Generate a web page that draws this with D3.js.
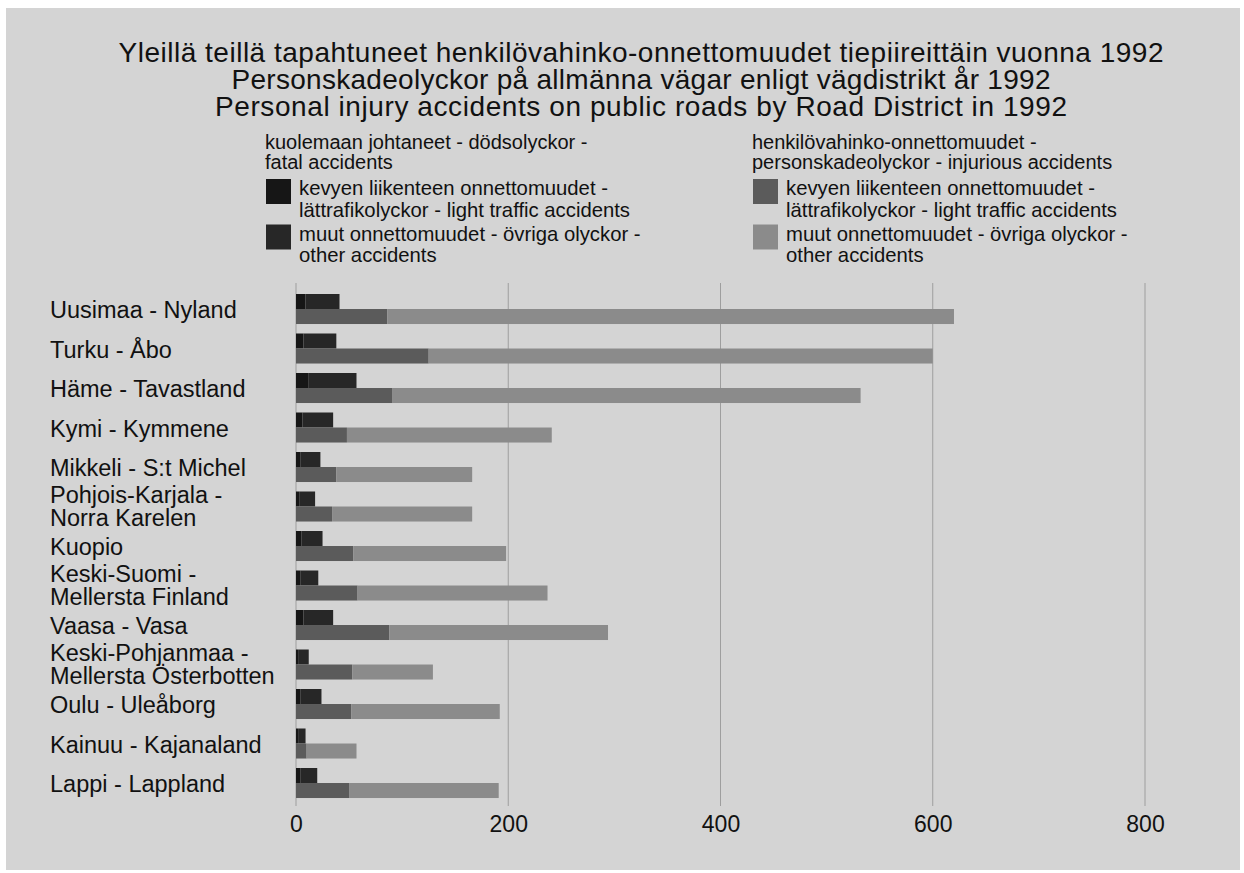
<!DOCTYPE html>
<html>
<head>
<meta charset="utf-8">
<script src="https://cdn.jsdelivr.net/npm/d3@7"></script>
<style>
  html, body { margin: 0; padding: 0; background: #ffffff; }
  svg { display: block; }
  text { font-family: "Liberation Sans", Arial, Helvetica, sans-serif; fill: #111; }
</style>
</head>
<body>
<svg id="chart" width="1244" height="873"></svg>
<script>
const titleLines = [
  "Yleillä teillä tapahtuneet henkilövahinko-onnettomuudet tiepiireittäin vuonna 1992",
  "Personskadeolyckor på allmänna vägar enligt vägdistrikt år 1992",
  "Personal injury accidents on public roads by Road District in 1992"
];

const categories = [
  ["Uusimaa - Nyland"],
  ["Turku - Åbo"],
  ["Häme - Tavastland"],
  ["Kymi - Kymmene"],
  ["Mikkeli - S:t Michel"],
  ["Pohjois-Karjala -", "Norra Karelen"],
  ["Kuopio"],
  ["Keski-Suomi -", "Mellersta Finland"],
  ["Vaasa - Vasa"],
  ["Keski-Pohjanmaa -", "Mellersta Österbotten"],
  ["Oulu - Uleåborg"],
  ["Kainuu - Kajanaland"],
  ["Lappi - Lappland"]
];

// fatal accidents
const fatalLight = [9, 7, 12, 6, 4, 3, 5, 4, 7, 2, 4, 2, 4];
const fatalOther = [32, 31, 45, 29, 19, 15, 20, 17, 28, 10, 20, 7, 16];
// injurious accidents
const injLight = [86, 125, 91, 48, 38, 34, 54, 58, 88, 53, 52, 10, 50];
const injOther = [534, 475, 441, 193, 128, 132, 144, 179, 206, 76, 140, 47, 141];

const tickValues = [0, 200, 400, 600, 800];

const legendFatalHeader = ["kuolemaan johtaneet - dödsolyckor -", "fatal accidents"];
const legendInjHeader = ["henkilövahinko-onnettomuudet -", "personskadeolyckor - injurious accidents"];
const legendItems = [
  ["kevyen liikenteen onnettomuudet -", "lättrafikolyckor - light traffic accidents"],
  ["muut onnettomuudet - övriga olyckor -", "other accidents"]
];

const colors = {
  fatalLight: "#161616",
  fatalOther: "#272727",
  injLight: "#5b5b5b",
  injOther: "#8b8b8b",
  bg: "#d4d4d4",
  grid: "#9e9e9e"
};

const svg = d3.select("#chart");

// background panel
svg.append("rect").attr("x", 6).attr("y", 8).attr("width", 1234).attr("height", 862).attr("fill", colors.bg);

// title
const titleWidths = [1045, 819, 852];
titleLines.forEach((t, i) => {
  svg.append("text").attr("text-anchor", "middle").style("font-size", "28px")
    .attr("x", 641).attr("y", 62 + i * 26.8)
    .attr("textLength", titleWidths[i]).attr("lengthAdjust", "spacing")
    .text(t);
});

// legends
function legend(x0, header, cols) {
  const g = svg.append("g");
  header.forEach((t, i) => {
    g.append("text").attr("x", x0).attr("y", 149 + i * 19.5).style("font-size", "20px").text(t);
  });
  legendItems.forEach((lines, k) => {
    const yTop = 179 + k * 45.5;
    g.append("rect").attr("x", x0 + 1).attr("y", yTop).attr("width", 25).attr("height", 25).attr("fill", cols[k]);
    lines.forEach((t, i) => {
      g.append("text").attr("x", x0 + 34).attr("y", yTop + 16 + i * 21.5).style("font-size", "20.3px").text(t);
    });
  });
}
legend(265, legendFatalHeader, [colors.fatalLight, colors.fatalOther]);
legend(752, legendInjHeader, [colors.injLight, colors.injOther]);

// scales
const x = d3.scaleLinear().domain([0, 800]).range([296, 1145]);
const catNames = categories.map(c => c.join(" "));
const y = d3.scaleBand().domain(catNames).range([289.26, 289.26 + 13 * 39.5]).paddingInner(0.24).paddingOuter(0.12);
const sub = d3.scaleBand().domain(["fatal", "inj"]).range([0, y.bandwidth()]).padding(0);

// gridlines
const gridTop = 283, gridBottom = 806;
svg.append("g").selectAll("line").data(tickValues).join("line")
  .attr("x1", d => x(d)).attr("x2", d => x(d))
  .attr("y1", gridTop).attr("y2", gridBottom)
  .attr("stroke", colors.grid).attr("stroke-width", 1);

// data rows
const rows = catNames.map((name, i) => ({
  name, fl: fatalLight[i], fo: fatalOther[i], il: injLight[i], io: injOther[i]
}));

const bars = svg.append("g");
rows.forEach(r => {
  const segs = [
    { key: "fatal", x0: 0, x1: r.fl, c: colors.fatalLight },
    { key: "fatal", x0: r.fl, x1: r.fl + r.fo, c: colors.fatalOther },
    { key: "inj", x0: 0, x1: r.il, c: colors.injLight },
    { key: "inj", x0: r.il, x1: r.il + r.io, c: colors.injOther }
  ];
  bars.selectAll(null).data(segs).join("rect")
    .attr("x", d => x(d.x0))
    .attr("width", d => x(d.x1) - x(d.x0))
    .attr("y", d => y(r.name) + sub(d.key))
    .attr("height", sub.bandwidth())
    .attr("fill", d => d.c);
});

// y labels
const ylab = svg.append("g");
categories.forEach((lines, i) => {
  const cy = y(catNames[i]) + y.bandwidth() / 2;
  const t = ylab.append("text").attr("x", 50).style("font-size", "23.5px");
  if (lines.length === 1) {
    t.append("tspan").attr("x", 50).attr("y", cy + 9).text(lines[0]);
  } else {
    lines.forEach((l, k) => t.append("tspan").attr("x", 50).attr("y", cy - 4 + k * 23).text(l));
  }
});

// x axis tick labels
const axis = d3.axisBottom(x).tickValues(tickValues).tickSize(0).tickPadding(0).tickFormat(d3.format("d"));
const ax = svg.append("g").attr("transform", "translate(0,816)").call(axis);
ax.select(".domain").remove();
ax.selectAll("text").style("font-size", "23px").style("font-family", "Liberation Sans, Arial, sans-serif").attr("fill", "#111").attr("dy", "0.71em");
</script>
</body>
</html>
